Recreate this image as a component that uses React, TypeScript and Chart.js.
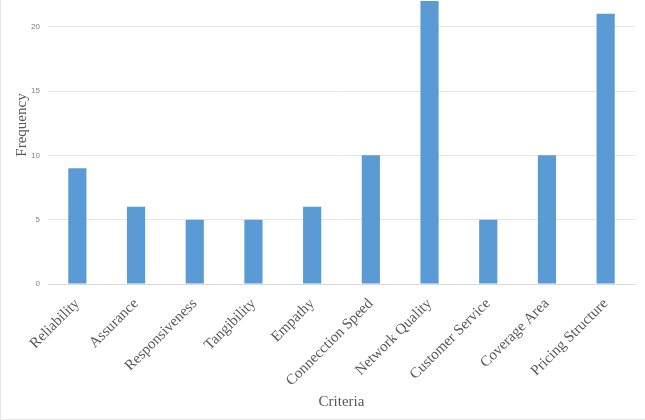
import React, { useEffect, useRef } from "react";
import { Chart, registerables } from "chart.js";

Chart.register(...registerables);

const categories = [
  "Reliability",
  "Assurance",
  "Responsiveness",
  "Tangibility",
  "Empathy",
  "Connecction Speed",
  "Network Quality",
  "Customer Service",
  "Coverage Area",
  "Pricing Structure",
];
const frequency = [9, 6, 5, 5, 6, 10, 22, 5, 10, 21];
const yTickValues = [0, 5, 10, 15, 20];
const yTitle = "Frequency";
const xTitle = "Criteria";

const yTitlePlugin = {
  id: "yTitlePlugin",
  afterDraw(chart: any) {
    const ctx = chart.ctx;
    ctx.save();
    ctx.translate(18, 125);
    ctx.rotate(-Math.PI / 2);
    ctx.textAlign = "center";
    ctx.textBaseline = "middle";
    ctx.fillStyle = "#595959";
    ctx.font = "15px 'Liberation Serif'";
    ctx.fillText(yTitle, 0, 0);
    ctx.restore();
  },
};

export default function App() {
  const ref = useRef<HTMLCanvasElement | null>(null);
  useEffect(() => {
    document.body.style.margin = "0";
    const ctx = ref.current!;
    const chart = new Chart(ctx, {
      type: "bar",
      data: {
        labels: categories,
        datasets: [
          {
            label: yTitle,
            data: frequency,
            backgroundColor: "#5b9bd5",
            barPercentage: 0.31,
            categoryPercentage: 1,
          },
        ],
      },
      plugins: [yTitlePlugin],
      options: {
        animation: false,
        responsive: false,
        layout: { padding: { left: 0, right: 9, top: 1, bottom: 4 } },
        plugins: { legend: { display: false }, tooltip: { enabled: false } },
        scales: {
          x: {
            afterFit: (scale: any) => {
              scale.height = 130;
            },
            grid: { display: false, drawTicks: false },
            border: { color: "#d9d9d9" },
            ticks: {
              minRotation: 45,
              maxRotation: 45,
              color: "#595959",
              padding: 11,
              font: { family: "Liberation Serif", size: 15 },
            },
            title: {
              display: true,
              text: xTitle,
              color: "#595959",
              font: { family: "Liberation Serif", size: 15 },
              padding: { top: 0, bottom: 3 },
            },
          },
          y: {
            min: 0,
            max: 22,
            afterBuildTicks: (scale: any) => {
              scale.ticks = yTickValues.map((v) => ({ value: v }));
            },
            afterFit: (scale: any) => {
              scale.width = 44;
              scale.paddingTop = 0;
              scale.paddingBottom = 0;
            },
            grid: { color: "#e6e6e6", drawTicks: false },
            border: { display: false },
            ticks: {
              color: "#7f7f7f",
              padding: 8,
              font: { family: "Liberation Sans", size: 8 },
            },
            title: { display: false },
          },
        },
      },
    });
    return () => chart.destroy();
  }, []);
  return (
    <div
      style={{
        position: "absolute",
        left: 0,
        top: 0,
        width: 645,
        height: 420,
        boxSizing: "border-box",
        borderLeft: "1px solid #e6e6e6",
        borderBottom: "1px solid #e6e6e6",
        background: "#fff",
      }}
    >
      <canvas ref={ref} width={640} height={418} style={{ display: "block", marginLeft: 3 }} />
    </div>
  );
}
